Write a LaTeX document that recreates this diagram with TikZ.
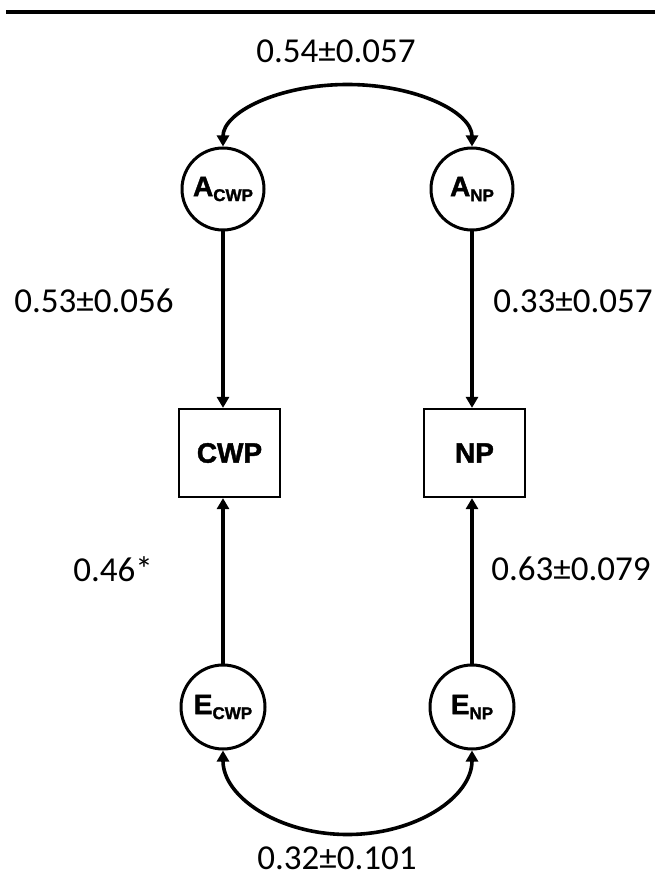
\documentclass[tikz,border=0pt]{standalone}
\usepackage{fontspec}
\setmainfont{Carlito}
\newfontfamily\nodefont{Liberation Sans}[BoldFeatures={FakeBold=1.5}]
\usetikzlibrary{arrows.meta}
\tikzset{
  latent/.style={circle, draw, line width=3pt, minimum size=82pt, inner sep=0pt, font=\nodefont\bfseries\fontsize{28}{30}\selectfont},
  obs/.style={rectangle, draw, line width=2.2pt, minimum width=101pt, minimum height=88pt, inner sep=0pt, font=\nodefont\bfseries\fontsize{28}{30}\selectfont},
  lab/.style={inner sep=0pt, font=\fontsize{35}{38}\selectfont},
  arr/.style={line width=3.6pt, -{Triangle[length=11pt,width=12pt]}},
  biarr/.style={line width=3.6pt, {Triangle[length=11pt,width=12pt]}-{Triangle[length=11pt,width=12pt]}}
}
\newcommand{\subtxt}[1]{\raisebox{-5pt}{\fontsize{17}{18}\selectfont #1}}
\begin{document}
\begin{tikzpicture}[x=1pt,y=-1pt]
\useasboundingbox (0,0) rectangle (655,877);
\coordinate (r1) at (6,12);
\coordinate (r2) at (655,12);
\draw[line width=4.5pt] (r1) -- (r2);

\node[latent] (acwp) at (223,189) {A\subtxt{CWP}};
\node[latent] (anp)  at (472,189) {A\subtxt{NP}};
\node[obs] (cwp) at (229.5,453) {CWP};
\node[obs] (np)  at (474.5,453) {NP};
\node[latent, minimum size=84pt] (ecwp) at (223,707) {E\subtxt{CWP}};
\node[latent, minimum size=84pt] (enp)  at (472,707) {E\subtxt{NP}};

\draw[arr] (acwp.south) -- (acwp.south |- cwp.north);
\draw[arr] (anp.south) -- (anp.south |- np.north);
\draw[arr] (ecwp.north) -- (ecwp.north |- cwp.south);
\draw[arr] (enp.north) -- (enp.north |- np.south);

\draw[biarr] (acwp.north) arc[start angle=180, end angle=0, x radius=124.5pt, y radius=62pt];
\draw[biarr] (ecwp.south) arc[start angle=180, end angle=360, x radius=124.5pt, y radius=84pt];

\node[lab] (l1) at (336,51) {0.54±0.057};
\node[lab] (l2) at (94,301) {0.53±0.056};
\node[lab] (l3) at (573,301) {0.33±0.057};
\node[lab] (l4) at (113,569) {0.46*};
\node[lab] (l5) at (571,569) {0.63±0.079};
\node[lab] (l6) at (337,858) {0.32±0.101};
\end{tikzpicture}
\end{document}
